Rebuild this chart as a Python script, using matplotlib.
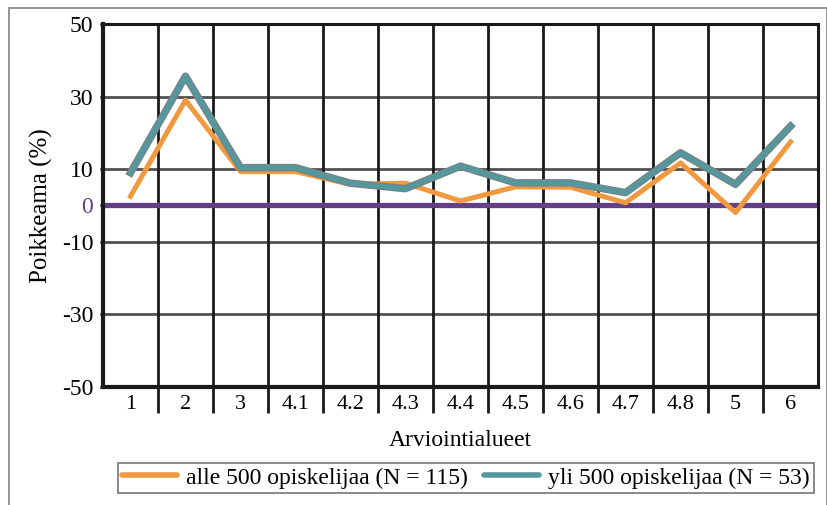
import numpy as np
import matplotlib.pyplot as plt
import matplotlib.patheffects as pe
from matplotlib.patches import Rectangle

categories = ["1", "2", "3", "4.1", "4.2", "4.3", "4.4", "4.5", "4.6", "4.7", "4.8", "5", "6"]
alle_500 = [2.5, 29, 9.3, 9.3, 5.8, 6.1, 1.2, 5.1, 5.0, 0.7, 11.7, -2.0, 17.5]
yli_500 = [9, 35.6, 10.4, 10.4, 6.1, 4.6, 10.8, 6.2, 6.2, 3.5, 14.5, 5.8, 21.8]
yticks = [50, 30, 10, 0, -10, -30, -50]

plt.rcParams['font.family'] = ['Liberation Serif', 'DejaVu Serif']

fig = plt.figure(figsize=(8.28, 5.05), dpi=100)
ax = fig.add_axes([103 / 828, 1 - 386.7 / 505, 715 / 828, 362.7 / 505])

# outer frame
fig.patches.append(Rectangle((9 / 828, -0.05), 818 / 828, 1 - 8 / 505 + 0.05,
                             transform=fig.transFigure, fill=False,
                             edgecolor="#8c8c8c", linewidth=1.3))

x = np.arange(len(categories))
ax.set_xlim(-0.5, len(categories) - 0.5)
ax.set_ylim(-50, 50)

for yv in [30, 10, -10, -30]:
    ax.axhline(yv, color="#505050", linewidth=2, zorder=1)
for b in np.arange(0.5, len(categories) - 0.5, 1):
    ax.axvline(b, color="#1a1a1a", linewidth=2, zorder=1)

ax.axhline(0, color="#623f86", linewidth=3.8, zorder=2)
ax.plot(x, alle_500, color="#f0993e", linewidth=3.6, zorder=3,
        label="alle 500 opiskelijaa (N = 115)")
ax.plot(x, yli_500, color="#55979d", linewidth=4.0, zorder=4,
        path_effects=[pe.Stroke(linewidth=5.4, foreground="#7f7f7f"), pe.Normal()],
        label="yli 500 opiskelijaa (N = 53)")

for s in ax.spines.values():
    s.set_color("#1a1a1a")
    s.set_linewidth(2.2)
ax.spines["left"].set_linewidth(3)
ax.spines["bottom"].set_linewidth(3)

ax.set_xticks(x)
ax.set_xticklabels(categories, fontsize=16)
ax.set_xticks(np.arange(0.5, len(categories) - 1, 1), minor=True)
ax.tick_params(axis="x", which="major", length=0, pad=6)
ax.tick_params(axis="x", which="minor", length=19, width=2, color="#1a1a1a")

ax.set_yticks(yticks)
ax.set_yticklabels([str(v) for v in yticks], fontsize=17)
ax.tick_params(axis="y", length=2, width=2, pad=5)
ax.get_yticklabels()[3].set_color("#623f86")

ax.set_ylabel("Poikkeama (%)", fontsize=18, labelpad=6)
ax.set_xlabel("Arviointialueet", fontsize=17, labelpad=9)

leg = fig.legend(loc="center", bbox_to_anchor=(466 / 828, 1 - 478 / 505), ncol=2,
                 fontsize=17, frameon=True, fancybox=False, handlelength=2.3,
                 columnspacing=0.7, handletextpad=0.4, borderpad=0.2,
                 borderaxespad=0)
leg.get_frame().set_edgecolor("#555555")
leg.get_frame().set_linewidth(1.2)
for h in leg.get_lines():
    h.set_path_effects([])
    h.set_linewidth(4)
    h.set_solid_capstyle("round")

fig.savefig("out.png", dpi=100)
